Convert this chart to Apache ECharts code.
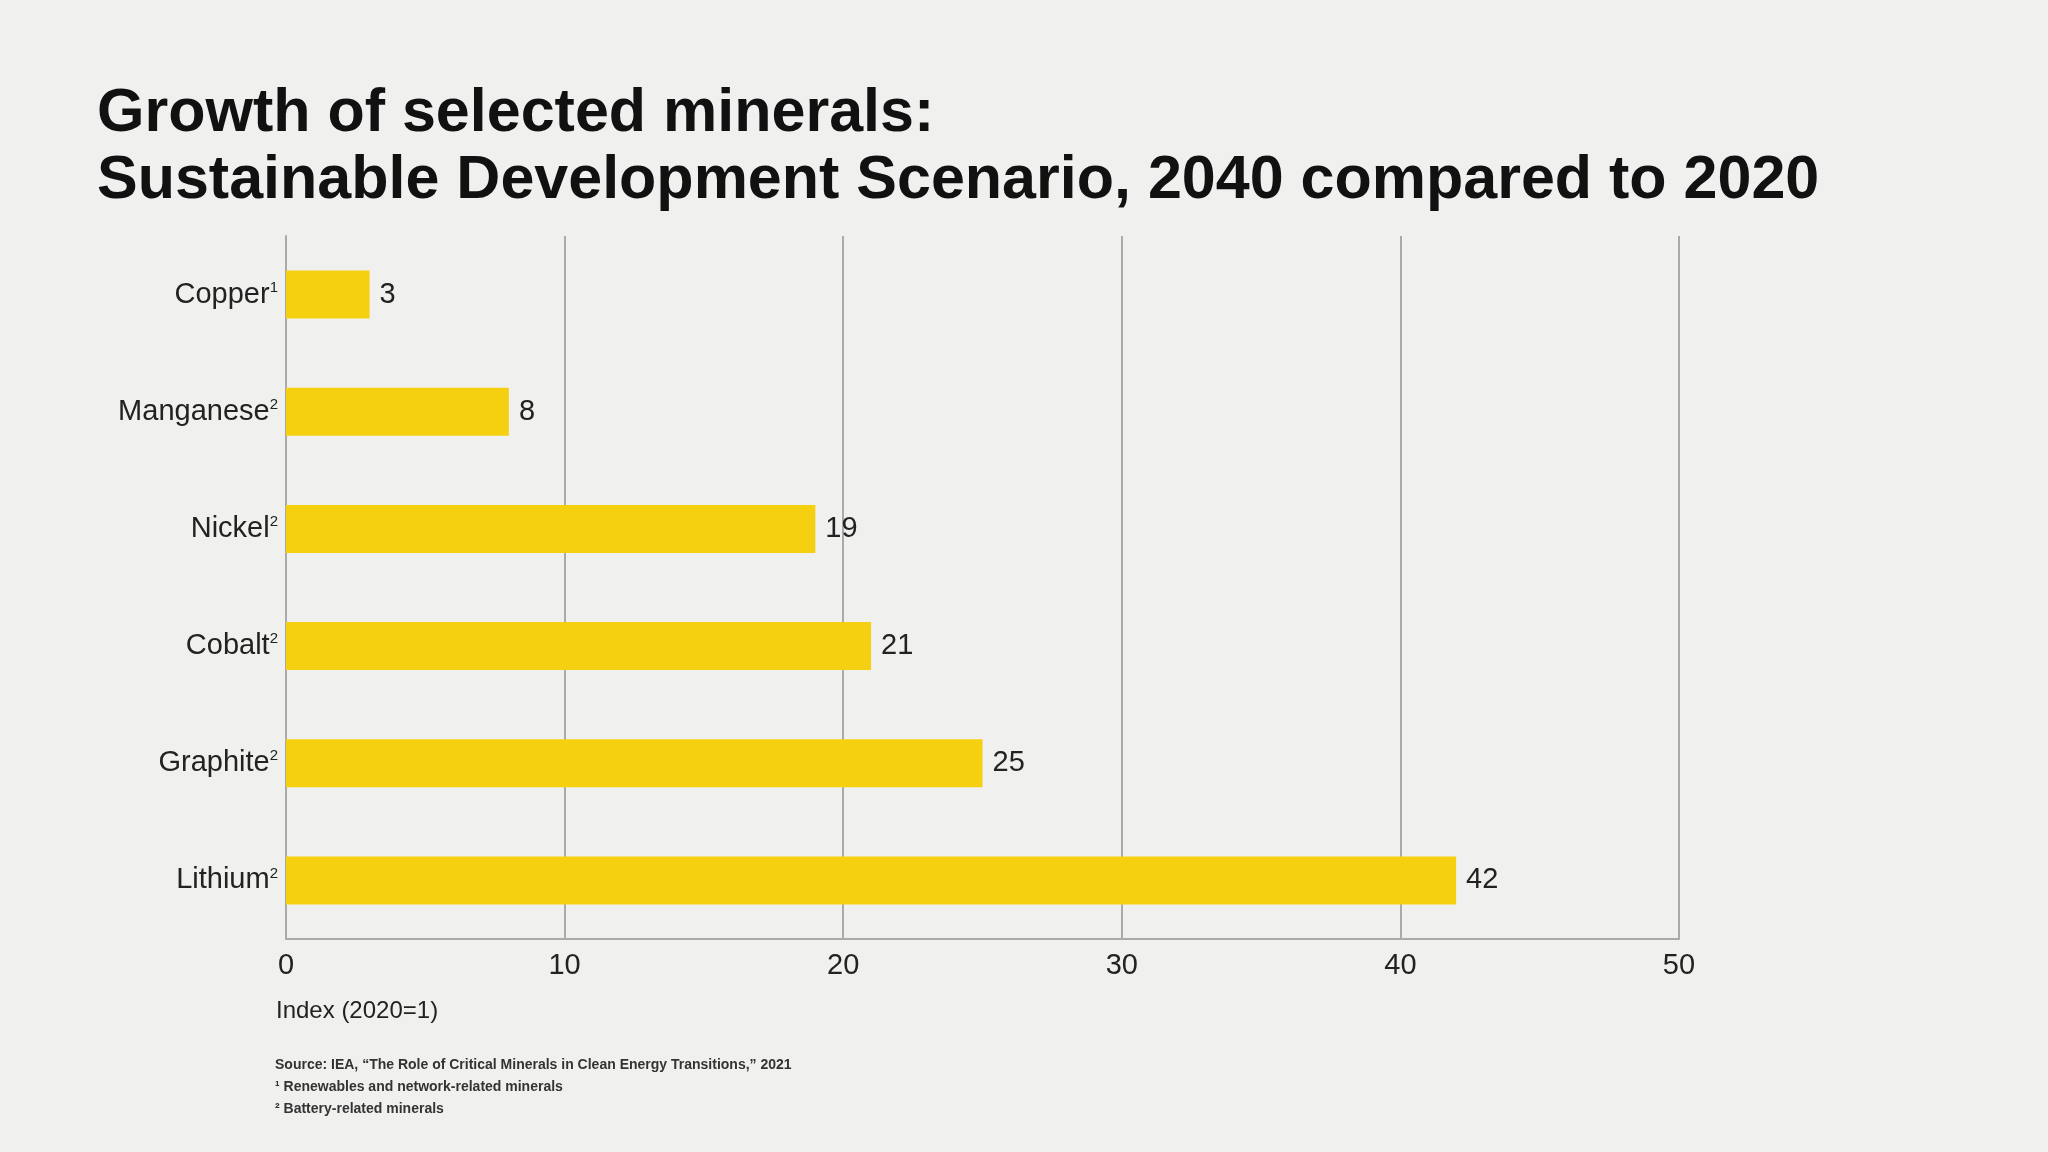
<!DOCTYPE html>
<html>
<head>
<meta charset="utf-8">
<script src="https://cdn.jsdelivr.net/npm/echarts@6/dist/echarts.min.js"></script>
<style>
  html, body { margin: 0; padding: 0; background: #f0f0ee; }
  #chart { width: 2048px; height: 1152px; }
</style>
</head>
<body>
<div id="chart"></div>
<script>
// data
const minerals = ['Copper', 'Manganese', 'Nickel', 'Cobalt', 'Graphite', 'Lithium']
const notes = ['1', '2', '2', '2', '2', '2']
const growth = [3, 8, 19, 21, 25, 42]
const xTicks = [0, 10, 20, 30, 40, 50]

const FONT = '"Liberation Sans", Arial, sans-serif'
const chart = echarts.init(document.getElementById('chart'))

chart.setOption({
  backgroundColor: '#f0f0ee',
  animation: false,
  title: {
    text: 'Growth of selected minerals:\nSustainable Development Scenario, 2040 compared to 2020',
    left: 92, top: 76,
    textStyle: { fontFamily: FONT, fontSize: 61, fontWeight: 'bold', color: '#111', lineHeight: 67 }
  },
  grid: { left: 286, right: 2048 - 1679, top: 236, bottom: 1152 - 939 },
  xAxis: {
    type: 'value', min: 0, max: 50, interval: 10,
    axisLine: { show: true, lineStyle: { color: '#aaa', width: 2 } },
    axisTick: { show: false },
    splitLine: { show: true, lineStyle: { color: '#aaa', width: 2 } },
    axisLabel: {
      margin: 12, fontFamily: FONT, fontSize: 29, color: '#222',
      formatter: v => xTicks.includes(v) ? String(v) : ''
    },
    name: 'Index (2020=1)', nameLocation: 'start',
    nameGap: 0,
    nameTextStyle: { fontFamily: FONT, fontSize: 24, color: '#222', align: 'left', verticalAlign: 'top', padding: [60, 0, 0, -10] }
  },
  yAxis: {
    type: 'category', inverse: true,
    data: minerals.map((m, i) => m + '{s|' + notes[i] + '}'),
    axisLine: { show: true, lineStyle: { color: '#aaa', width: 2 } },
    axisTick: { show: false },
    axisLabel: {
      margin: 8, fontFamily: FONT, fontSize: 29, color: '#222',
      rich: { s: { fontFamily: FONT, fontSize: 15, color: '#222', verticalAlign: 'top', padding: [0, 0, 14, 0] } }
    }
  },
  series: [{
    type: 'bar', data: growth, barWidth: '41%',
    itemStyle: { color: '#f5d010' },
    label: { show: true, position: 'right', distance: 10, fontFamily: FONT, fontSize: 29, color: '#222' }
  }],
  graphic: [
    { type: 'text', left: 275, top: 1058, style: { text: 'Source: IEA, \u201cThe Role of Critical Minerals in Clean Energy Transitions,\u201d 2021', font: 'bold 14px ' + FONT, fill: '#333' } },
    { type: 'text', left: 275, top: 1080, style: { text: '\u00b9 Renewables and network-related minerals', font: 'bold 14px ' + FONT, fill: '#333' } },
    { type: 'text', left: 275, top: 1102, style: { text: '\u00b2 Battery-related minerals', font: 'bold 14px ' + FONT, fill: '#333' } }
  ]
})
</script>
</body>
</html>
